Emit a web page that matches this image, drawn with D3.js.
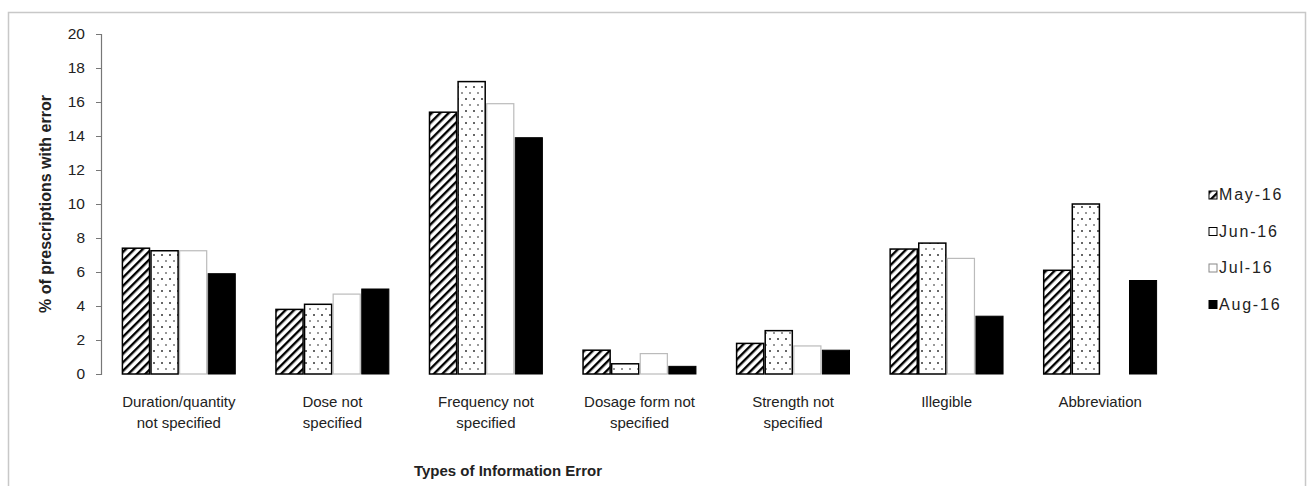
<!DOCTYPE html>
<html><head><meta charset="utf-8">
<script src="https://cdn.jsdelivr.net/npm/d3@7"></script>
<style>body{margin:0;background:#fff}svg{display:block}text{font-family:"Liberation Sans",Arial,sans-serif}</style>
</head><body><svg id="c" width="1311" height="486"></svg>
<script>
const categories = [
  ["Duration/quantity","not specified"],
  ["Dose not","specified"],
  ["Frequency not","specified"],
  ["Dosage form not","specified"],
  ["Strength not","specified"],
  ["Illegible"],
  ["Abbreviation"]
];
const seriesNames = ["May-16","Jun-16","Jul-16","Aug-16"];
const may16 = [7.4, 3.8, 15.4, 1.4, 1.8, 7.35, 6.1];
const jun16 = [7.25, 4.1, 17.2, 0.6, 2.55, 7.7, 10.0];
const jul16 = [7.25, 4.7, 15.9, 1.2, 1.65, 6.8, 0];
const aug16 = [5.9, 5.0, 13.9, 0.45, 1.4, 3.4, 5.5];
const yTicks = [0,2,4,6,8,10,12,14,16,18,20];
const series = [may16, jun16, jul16, aug16];

const svg = d3.select("#c");
const defs = svg.append("defs");
const hatch = defs.append("pattern").attr("id","hatch").attr("patternUnits","userSpaceOnUse")
  .attr("width",6).attr("height",6).attr("patternTransform","rotate(45)");
hatch.append("rect").attr("width",6).attr("height",6).attr("fill","#fff");
hatch.append("rect").attr("x",0).attr("width",2.4).attr("height",6).attr("fill","#000");
const dots = defs.append("pattern").attr("id","dots").attr("patternUnits","userSpaceOnUse")
  .attr("width",8).attr("height",12);
dots.append("rect").attr("width",8).attr("height",12).attr("fill","#fff");
dots.append("circle").attr("cx",2).attr("cy",3).attr("r",1).attr("fill","#333");
dots.append("circle").attr("cx",6).attr("cy",9).attr("r",1).attr("fill","#777");

const fills = ["url(#hatch)","url(#dots)","#fff","#000"];
const strokes = ["#000","#000","#bbb","#000"];
const strokeW = [1.5,1.5,1.2,1];

svg.append("rect").attr("x",8.5).attr("y",12.5).attr("width",1297).attr("height",480)
  .attr("fill","none").attr("stroke","#c8c8c8").attr("stroke-width",1.5);

const x0 = d3.scaleBand().domain(d3.range(categories.length)).range([102,1177]).paddingInner(0.255).paddingOuter(0.128);
const x1 = d3.scaleBand().domain(d3.range(seriesNames.length)).range([0,x0.bandwidth()]);
const y = d3.scaleLinear().domain([0,20]).range([374,34]);

const yAxis = svg.append("g").attr("transform","translate(101,0)")
  .call(d3.axisLeft(y).tickValues(yTicks).tickSize(5).tickPadding(11).tickFormat(d3.format("d")));
yAxis.select(".domain").attr("stroke","#777").attr("stroke-width",1.2);
yAxis.selectAll(".tick line").attr("stroke","#777");
yAxis.selectAll("text").attr("font-size",15.5).attr("fill","#222")
  .attr("font-family","'Liberation Sans',Arial,sans-serif");

const g = svg.append("g");
series.forEach((vals, si) => {
  g.selectAll(null).data(vals).enter().append("rect")
    .attr("x",(d,i)=>x0(i)+x1(si)+0.75)
    .attr("y",d=>y(d))
    .attr("width",x1.bandwidth()-1.5)
    .attr("height",d=>y(0)-y(d))
    .attr("fill",fills[si]).attr("stroke",strokes[si]).attr("stroke-width",strokeW[si])
    .attr("display",d=>d>0?null:"none");
});

categories.forEach((lines,i)=>{
  const t = svg.append("text").attr("x",x0(i)+x0.bandwidth()/2).attr("y",407)
    .attr("text-anchor","middle").attr("font-size",15).attr("fill","#222");
  lines.forEach((l,k)=>t.append("tspan").attr("x",x0(i)+x0.bandwidth()/2).attr("dy",k?21:0).text(l));
});

svg.append("text").attr("x",508).attr("y",476).attr("text-anchor","middle")
  .attr("font-size",15).attr("font-weight","bold").attr("fill","#222").text("Types of Information Error");
svg.append("text").attr("transform","translate(51,204) rotate(-90)").attr("text-anchor","middle")
  .attr("font-size",16).attr("font-weight","bold").attr("fill","#222").text("% of prescriptions with error");

const leg = svg.append("g");
seriesNames.forEach((n,i)=>{
  const yy = 197 + i*36.5;
  leg.append("rect").attr("x",1209).attr("y",yy-6).attr("width",8).attr("height",8)
    .attr("fill",fills[i]==="url(#dots)"?"#fff":fills[i]).attr("stroke",i===2?"#888":"#000").attr("stroke-width",1);
  leg.append("text").attr("x",1219).attr("y",yy+3).attr("font-size",16).attr("letter-spacing",1.8)
    .attr("fill","#222").text(n);
});
</script></body></html>
